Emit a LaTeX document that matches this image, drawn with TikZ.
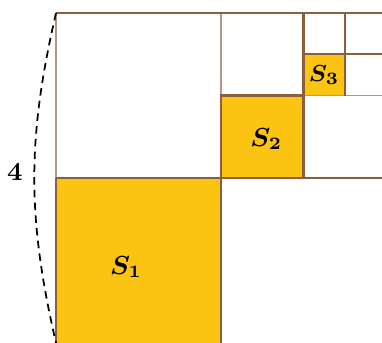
\documentclass[tikz,border=0pt]{standalone}
\usepackage{amsmath}
\definecolor{gold}{RGB}{252,196,18}
\definecolor{edge}{RGB}{139,94,62}
\definecolor{paleedge}{RGB}{180,148,140}
\begin{document}
\begin{tikzpicture}[x=1cm, y=1cm,
    grid/.style={draw=edge, line width=0.8pt},
    pale/.style={draw=paleedge, line width=0.6pt},
    lbl/.style={font=\small\boldmath}]
  \useasboundingbox (-0.679,0) rectangle (3.952,4.158);
  \clip (-0.679,0) rectangle (3.952,4.158);
  % shaded squares
  \fill[gold] (0,0) rectangle (2,2);
  \fill[gold] (2,2) rectangle (3,3);
  \fill[gold] (3,3) rectangle (3.5,3.5);
  % dividing lines
  \draw[pale] (0,2) -- (0,4);
  \draw[pale] (2,3) -- (2,4);
  \draw[pale] (3,3) -- (4,3);
  \draw[grid] (0,0) -- (0,2);
  \draw[grid] (0,4) -- (4,4);
  \draw[grid] (0,2) -- (4,2);
  \draw[grid] (2,0) -- (2,3) -- (3,3);
  \draw[grid] (3,2) -- (3,4);
  \draw[grid] (3,3.5) -- (4,3.5);
  \draw[grid] (3.5,3) -- (3.5,4);
  % labels
  \node[lbl] (s1) at (0.85,0.92) {$S_1$};
  \node[lbl] (s2) at (2.55,2.47) {$S_2$};
  \node[lbl, font=\footnotesize\boldmath] (s3) at (3.25,3.25) {$S_3$};
  % side length
  \coordinate (tl) at (0,4);
  \coordinate (bl) at (0,0);
  \draw[dash pattern=on 2.6pt off 1.8pt, line width=0.6pt] (tl) to[bend right=13] (bl);
  \node[font=\small\bfseries] (side) at (-0.5,2.07) {4};
\end{tikzpicture}
\end{document}
